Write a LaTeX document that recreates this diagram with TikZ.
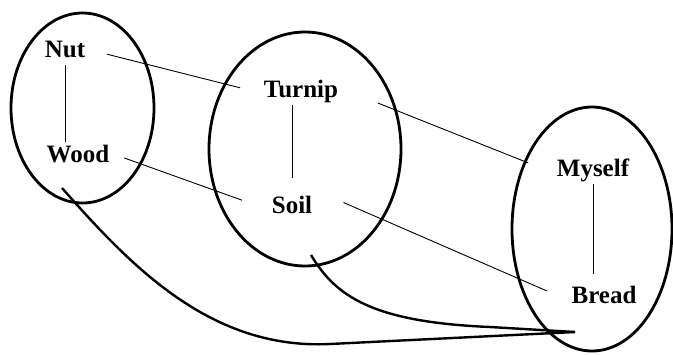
\documentclass[tikz,border=0pt]{standalone}
\usepackage{fontspec}
\setmainfont{Liberation Serif}
\usetikzlibrary{shapes.geometric}

\begin{document}
\begin{tikzpicture}[
    x=1pt, y=-1pt,
    word/.style={
        font=\fontsize{25}{29}\selectfont\bfseries, anchor=base,
        inner xsep=10pt, inner ysep=3pt, text height=16.5pt, text depth=5pt
    },
    setoval/.style={ellipse, draw, line width=2.8pt, inner sep=0pt},
    link/.style={line width=0.9pt},
    sweep/.style={line width=2.4pt}
]
\useasboundingbox (0,0) rectangle (673,354);

%% ---- Ovals ----
\node[setoval, minimum width=143pt, minimum height=190pt] (setA) at (82.5,108) {};
\node[setoval, minimum width=192pt, minimum height=234pt] (setB) at (305,149) {};
\node[setoval, minimum width=160pt, minimum height=244pt] (setC) at (592,229) {};

%% ---- Words ----
\node[word] (nut)    at (65,57)   {Nut};
\node[word] (wood)   at (78,162)  {Wood};
\node[word] (turnip) at (301,97)  {Turnip};
\node[word] (soil)   at (292,213) {Soil};
\node[word] (myself) at (593,176) {Myself};
\node[word] (bread)  at (604,303) {Bread};

%% ---- Thin links ----
\draw[link] (nut.south) -- (nut.south |- wood.north);
\draw[link, shorten >=15pt] (soil |- turnip.south) -- (soil.north);
\draw[link, shorten >=9pt] (myself.south) -- (myself |- bread.north);
\draw[link, shorten <=12pt, shorten >=14pt] (nut.east) -- (turnip.west);
\draw[link, shorten <=5pt, shorten >=21pt] (wood.east) -- (soil.west);
\draw[link, shorten <=32pt, shorten >=20pt] (turnip.east) -- (myself.west);
\draw[link, shorten <=23pt, shorten >=16pt] (soil.north east) -- (bread.west);

%% ---- Thick curves ----
\coordinate (woodTail)  at (62,188);
\coordinate (soilTail)  at (311,255);
\coordinate (breadTail) at (575,332);
\draw[sweep] (woodTail) .. controls (130,265) and (210,350) .. (330,344) -- (breadTail);
\draw[sweep] (soilTail) .. controls (335,295) and (370,322) .. (490,327) -- (breadTail);

\end{tikzpicture}
\end{document}
